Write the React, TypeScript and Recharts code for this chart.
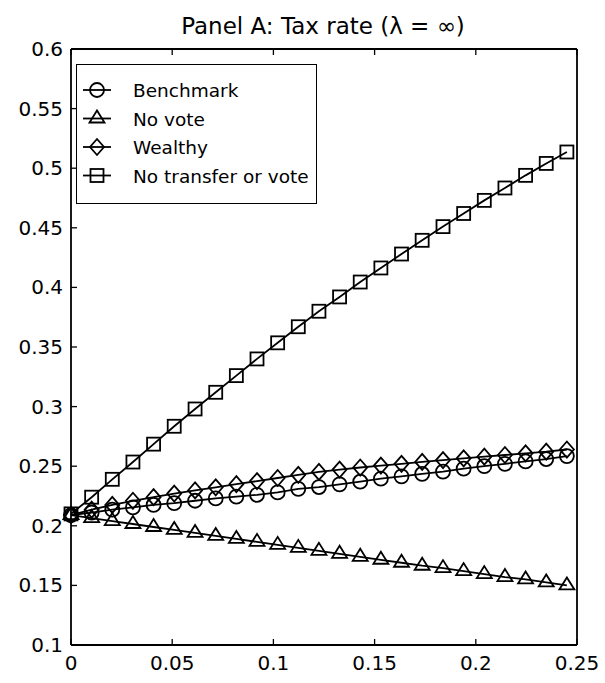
import React from "react";
import { LineChart, Line, XAxis, YAxis } from "recharts";

const xValues = [
  0, 0.0102, 0.0204, 0.0306, 0.0408, 0.051, 0.0613, 0.0715, 0.0817, 0.0919,
  0.1021, 0.1123, 0.1225, 0.1327, 0.1429, 0.1531, 0.1633, 0.1735, 0.1838,
  0.194, 0.2042, 0.2144, 0.2246, 0.2348, 0.245,
];
const benchmark = [
  0.209, 0.211, 0.2135, 0.2155, 0.2175, 0.219, 0.221, 0.223, 0.2245, 0.226,
  0.228, 0.231, 0.2325, 0.2348, 0.237, 0.2395, 0.2415, 0.2435, 0.2455, 0.248,
  0.25, 0.252, 0.254, 0.256, 0.2585,
];
const noVote = [
  0.209, 0.2065, 0.204, 0.2015, 0.199, 0.1965, 0.194, 0.1915, 0.189, 0.1865,
  0.184, 0.1815, 0.179, 0.1765, 0.174, 0.1715, 0.169, 0.1665, 0.1645, 0.162,
  0.1595, 0.157, 0.155, 0.1525, 0.15,
];
const wealthy = [
  0.209, 0.2135, 0.2175, 0.221, 0.224, 0.227, 0.2297, 0.2323, 0.2349, 0.2375,
  0.2401, 0.2428, 0.2452, 0.2472, 0.2489, 0.2505, 0.252, 0.2536, 0.2551,
  0.2566, 0.258, 0.2594, 0.2608, 0.2622, 0.264,
];
const noTransfer = [
  0.21, 0.224, 0.239, 0.2535, 0.2685, 0.2835, 0.298, 0.312, 0.326, 0.34,
  0.3535, 0.367, 0.38, 0.392, 0.4045, 0.4163, 0.428, 0.4395, 0.451, 0.462,
  0.473, 0.4834, 0.494, 0.504, 0.5136,
];

const xTicks = [0, 0.05, 0.1, 0.15, 0.2, 0.25];
const yTicks = [0.1, 0.15, 0.2, 0.25, 0.3, 0.35, 0.4, 0.45, 0.5, 0.55, 0.6];

const seriesNames = ["Benchmark", "No vote", "Wealthy", "No transfer or vote"];

const data = xValues.map((x, i) => ({
  x,
  benchmark: benchmark[i],
  noVote: noVote[i],
  wealthy: wealthy[i],
  noTransfer: noTransfer[i],
}));

const FONT = "'DejaVu Sans', sans-serif";
const INK = "#000";

type Shape = "circle" | "triangle" | "diamond" | "square";

function marker(shape: Shape, cx: number, cy: number, key?: string | number) {
  const common = { fill: "none", stroke: INK, strokeWidth: 1.8 };
  if (shape === "circle") return <circle key={key} cx={cx} cy={cy} r={7} {...common} />;
  if (shape === "triangle")
    return (
      <polygon
        key={key}
        points={`${cx},${cy - 8} ${cx - 7.5},${cy + 4} ${cx + 7.5},${cy + 4}`}
        {...common}
      />
    );
  if (shape === "diamond")
    return (
      <polygon
        key={key}
        points={`${cx},${cy - 8} ${cx + 7},${cy} ${cx},${cy + 8} ${cx - 7},${cy}`}
        {...common}
      />
    );
  return <rect key={key} x={cx - 6.5} y={cy - 6.5} width={13} height={13} {...common} />;
}

const dotFor = (shape: Shape) => (p: any) => marker(shape, p.cx, p.cy, `${shape}-${p.index}`);

const fmt = (v: number) => String(v);

const BottomTick = (p: any) => (
  <g>
    <line x1={p.x} y1={p.y} x2={p.x} y2={p.y - 6} stroke={INK} strokeWidth={1.3} />
    <text x={p.x} y={p.y + 25} textAnchor="middle" fontSize={20} fontFamily={FONT} fill={INK}>
      {fmt(p.payload.value)}
    </text>
  </g>
);
const TopTick = (p: any) => (
  <line x1={p.x} y1={p.y} x2={p.x} y2={p.y + 6} stroke={INK} strokeWidth={1.3} />
);
const LeftTick = (p: any) => (
  <g>
    <line x1={p.x} y1={p.y} x2={p.x + 6} y2={p.y} stroke={INK} strokeWidth={1.3} />
    <text x={p.x - 8} y={p.y + 7} textAnchor="end" fontSize={20} fontFamily={FONT} fill={INK}>
      {fmt(p.payload.value)}
    </text>
  </g>
);
const RightTick = (p: any) => (
  <line x1={p.x} y1={p.y} x2={p.x - 6} y2={p.y} stroke={INK} strokeWidth={1.3} />
);

const shapes: Shape[] = ["circle", "triangle", "diamond", "square"];

export default function App() {
  return (
    <div style={{ position: "relative", width: 605, height: 683, background: "#fff" }}>
      <style>{`body{margin:0;background:#fff}`}</style>
      <svg width={605} height={48} style={{ position: "absolute", left: 0, top: 0 }}>
        <text x={323} y={34} textAnchor="middle" fontSize={23} fontFamily={FONT} fill={INK}>
          Panel A: Tax rate (λ = ∞)
        </text>
      </svg>
      <LineChart width={605} height={683} data={data} margin={{ top: 0, right: 0, bottom: 0, left: 0 }}>
        <XAxis
          dataKey="x"
          type="number"
          domain={[0, 0.25]}
          ticks={xTicks}
          height={38}
          tickSize={0}
          tickMargin={0}
          tickLine={false}
          axisLine={{ stroke: INK, strokeWidth: 1.8 }}
          tick={BottomTick}
          interval={0}
        />
        <XAxis
          xAxisId="top"
          orientation="top"
          dataKey="x"
          type="number"
          domain={[0, 0.25]}
          ticks={xTicks}
          height={49}
          tickSize={0}
          tickMargin={0}
          tickLine={false}
          axisLine={{ stroke: INK, strokeWidth: 1.8 }}
          tick={TopTick}
          interval={0}
        />
        <YAxis
          type="number"
          domain={[0.1, 0.6]}
          ticks={yTicks}
          width={71}
          tickSize={0}
          tickMargin={0}
          tickLine={false}
          axisLine={{ stroke: INK, strokeWidth: 1.8 }}
          tick={LeftTick}
          interval={0}
        />
        <YAxis
          yAxisId="right"
          orientation="right"
          type="number"
          domain={[0.1, 0.6]}
          ticks={yTicks}
          width={28}
          tickSize={0}
          tickMargin={0}
          tickLine={false}
          axisLine={{ stroke: INK, strokeWidth: 1.8 }}
          tick={RightTick}
          interval={0}
        />
        <Line dataKey="benchmark" type="linear" stroke={INK} strokeWidth={1.8} dot={dotFor("circle")} isAnimationActive={false} />
        <Line dataKey="noVote" type="linear" stroke={INK} strokeWidth={1.8} dot={dotFor("triangle")} isAnimationActive={false} />
        <Line dataKey="wealthy" type="linear" stroke={INK} strokeWidth={1.8} dot={dotFor("diamond")} isAnimationActive={false} />
        <Line dataKey="noTransfer" type="linear" stroke={INK} strokeWidth={1.8} dot={dotFor("square")} isAnimationActive={false} />
      </LineChart>
      <div
        style={{
          position: "absolute",
          left: 76,
          top: 64,
          width: 241,
          height: 140,
          border: `1.5px solid ${INK}`,
          background: "#fff",
          boxSizing: "border-box",
        }}
      >
        <svg width={238} height={137}>
          {seriesNames.map((name, i) => {
            const cy = 25 + i * 28.5;
            return (
              <g key={name}>
                <line x1={6} y1={cy} x2={34} y2={cy} stroke={INK} strokeWidth={1.8} />
                {marker(shapes[i], 20, cy)}
                <text x={56} y={cy + 7} fontSize={18.5} fontFamily={FONT} fill={INK}>
                  {name}
                </text>
              </g>
            );
          })}
        </svg>
      </div>
    </div>
  );
}
